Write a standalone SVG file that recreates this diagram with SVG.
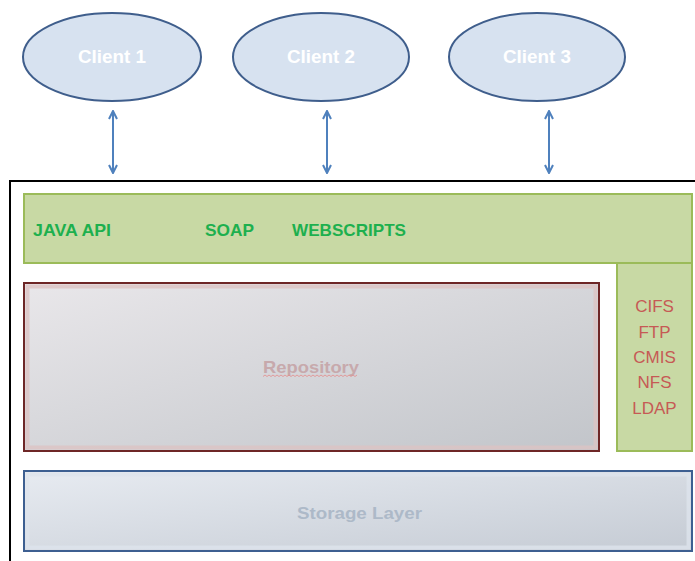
<svg xmlns="http://www.w3.org/2000/svg" width="695" height="561" viewBox="0 0 695 561">
  <style>
    .client ellipse { fill: #d7e2f0; stroke: #3f5e8c; stroke-width: 2; }
    .client text { font-family: "Liberation Sans", Arial, sans-serif; font-weight: bold; font-size: 18px; fill: #ffffff; text-anchor: middle; }
    .api text { font-family: "Liberation Sans", Arial, sans-serif; font-weight: bold; font-size: 17px; fill: #1db04e; }
    .green { fill: #c8d9a4; stroke: #9bbb59; stroke-width: 2; }
    .proto text { font-family: "Liberation Sans", Arial, sans-serif; font-size: 17px; fill: #c65a55; text-anchor: middle; }
    .conn line { stroke: #4f81bd; stroke-width: 2; }
    .label { font-family: "Liberation Sans", Arial, sans-serif; font-weight: bold; font-size: 17px; text-anchor: middle; }
  </style>
  <defs>
    <marker id="ah" viewBox="0 0 10 10" refX="9" refY="5" markerWidth="5" markerHeight="5" orient="auto-start-reverse" markerUnits="strokeWidth">
      <path d="M1,1 L9,5 L1,9" fill="none" stroke="#4f81bd" stroke-width="2"/>
    </marker>
    <linearGradient id="repoGrad" x1="0" y1="0" x2="1" y2="1">
      <stop offset="0" stop-color="#e9e7ea"/>
      <stop offset="1" stop-color="#c2c5ca"/>
    </linearGradient>
    <linearGradient id="storGrad" x1="0" y1="0" x2="1" y2="1">
      <stop offset="0" stop-color="#e7ebf1"/>
      <stop offset="1" stop-color="#c5cbd4"/>
    </linearGradient>
  </defs>

  <rect x="0" y="0" width="695" height="561" fill="#ffffff"/>

  <g id="client1" class="client">
    <ellipse cx="112" cy="57" rx="89" ry="44"/>
    <text x="112" y="63" textLength="68" lengthAdjust="spacingAndGlyphs">Client 1</text>
  </g>
  <g id="client2" class="client">
    <ellipse cx="321" cy="57" rx="88" ry="44"/>
    <text x="321" y="63" textLength="68" lengthAdjust="spacingAndGlyphs">Client 2</text>
  </g>
  <g id="client3" class="client">
    <ellipse cx="537" cy="57" rx="88" ry="44"/>
    <text x="537" y="63" textLength="68" lengthAdjust="spacingAndGlyphs">Client 3</text>
  </g>

  <g id="connectors" class="conn">
    <line x1="113" y1="111" x2="113" y2="173" marker-start="url(#ah)" marker-end="url(#ah)"/>
    <line x1="327" y1="111" x2="327" y2="173" marker-start="url(#ah)" marker-end="url(#ah)"/>
    <line x1="549" y1="111" x2="549" y2="173" marker-start="url(#ah)" marker-end="url(#ah)"/>
  </g>

  <g id="system">
    <rect x="10" y="181" width="700" height="400" fill="#ffffff" stroke="#000000" stroke-width="2"/>
  </g>

  <g id="api" class="api">
    <rect class="green" x="24" y="194" width="668" height="69"/>
    <text x="33" y="236" textLength="78" lengthAdjust="spacingAndGlyphs">JAVA API</text>
    <text x="205" y="236" textLength="49" lengthAdjust="spacingAndGlyphs">SOAP</text>
    <text x="292" y="236" textLength="114" lengthAdjust="spacingAndGlyphs">WEBSCRIPTS</text>
  </g>

  <g id="protocols" class="proto">
    <rect class="green" x="617" y="263" width="75" height="188"/>
    <text x="654.5" y="312">CIFS</text>
    <text x="654.5" y="337.5">FTP</text>
    <text x="654.5" y="362.5">CMIS</text>
    <text x="654.5" y="388">NFS</text>
    <text x="654.5" y="414">LDAP</text>
  </g>

  <g id="repository">
    <rect x="24" y="283" width="575" height="168" fill="url(#repoGrad)" stroke="#6e2626" stroke-width="2"/>
    <rect x="27.5" y="286.5" width="568" height="161" fill="none" stroke="#dcc3c3" stroke-width="4" opacity="0.8"/>
    <text class="label" x="311" y="373" fill="#c7a9ac" textLength="96" lengthAdjust="spacingAndGlyphs">Repository</text>
    <path d="M263,376.5 l2,-1.5 l2,1.5 l2,-1.5 l2,1.5 l2,-1.5 l2,1.5 l2,-1.5 l2,1.5 l2,-1.5 l2,1.5 l2,-1.5 l2,1.5 l2,-1.5 l2,1.5 l2,-1.5 l2,1.5 l2,-1.5 l2,1.5 l2,-1.5 l2,1.5 l2,-1.5 l2,1.5 l2,-1.5 l2,1.5 l2,-1.5 l2,1.5 l2,-1.5 l2,1.5 l2,-1.5 l2,1.5 l2,-1.5 l2,1.5 l2,-1.5 l2,1.5 l2,-1.5 l2,1.5 l2,-1.5 l2,1.5 l2,-1.5 l2,1.5 l2,-1.5 l2,1.5 l2,-1.5 l2,1.5 l2,-1.5 l2,1.5 l2,-1.5" fill="none" stroke="#e58a8a" stroke-width="0.8"/>
  </g>

  <g id="storage">
    <rect x="24" y="471" width="668" height="80" fill="url(#storGrad)" stroke="#3d5f91" stroke-width="2"/>
    <rect x="27.5" y="474.5" width="661" height="73" fill="none" stroke="#dde3ec" stroke-width="4" opacity="0.8"/>
    <text class="label" x="359.5" y="519" fill="#adb9c8" textLength="125" lengthAdjust="spacingAndGlyphs">Storage Layer</text>
  </g>
</svg>
